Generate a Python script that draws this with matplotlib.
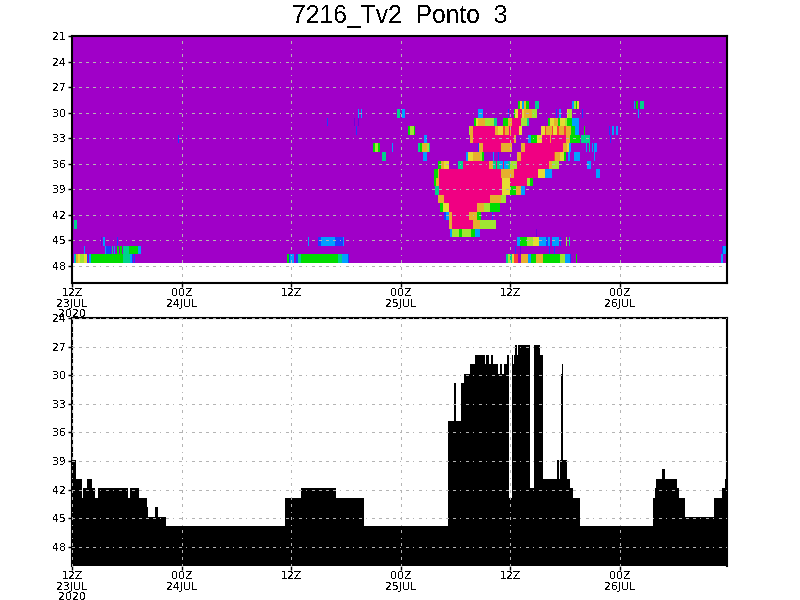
import numpy as np
import matplotlib
matplotlib.use("Agg")
import matplotlib.pyplot as plt
from matplotlib.colors import ListedColormap, BoundaryNorm

plt.rcParams['text.antialiased'] = False
plt.rcParams['font.family'] = 'DejaVu Sans'

# colour levels
V, I, B, C, A, T, G, L, Y, O, K, R, P = range(13)
LEVEL_COLORS = [(160,0,200),(110,0,220),(30,60,255),(0,160,255),(0,200,200),(0,210,140),
                (0,220,0),(160,230,50),(230,220,50),(230,175,45),(240,130,40),(250,60,60),(240,0,130)]

TITLE = "7216_Tv2  Ponto  3"
N_STEPS = 655
HOURS_PER_STEP = 12 / 109.6
TIME_TICKS = [0, 12, 24, 36, 48, 60]
TIME_LABELS = ["12Z\n23JUL\n2020", "00Z\n24JUL", "12Z", "00Z\n25JUL", "12Z", "00Z\n26JUL"]
TOP_LEVELS = list(range(21, 48))
TOP_YTICKS = [21, 24, 27, 30, 33, 36, 39, 42, 45, 48]
BOTTOM_YTICKS = [24, 27, 30, 33, 36, 39, 42, 45, 48]

# runs per level: (first step, end step, colour level)
ROW_29 = [(446,448,G),(448,450,Y),(450,452,C),(452,454,O),(454,457,G),(463,467,T),(500,502,C),(502,504,L),
          (504,505,G),(505,507,Y),(562,563,C),(564,566,G),(568,572,T)]
ROW_30 = [(286,287,C),(289,290,C),(325,328,T),(330,333,C),(406,411,C),(436,437,B),(442,443,G),(443,446,Y),(446,450,P),
          (450,452,Y),(452,460,O),(460,465,L),(484,485,B),(487,489,C),(495,496,Y),(496,500,L),(510,511,B),(566,567,C)]
ROW_31 = [(255,256,B),(282,283,I),(286,287,I),(402,404,G),(404,406,Y),(406,413,O),(413,422,L),(422,425,T),(431,436,G),
          (436,440,O),(440,449,P),(449,455,L),(455,457,T),(476,478,G),(478,482,Y),(482,486,O),(486,488,G),
          (488,493,Y),(493,495,L),(495,500,G),(500,507,C)]
ROW_32 = [(284,285,B),(336,338,G),(338,342,L),(342,343,G),(397,398,L),(398,401,O),(401,423,P),(423,426,O),(426,431,Y),
          (431,433,R),(433,437,O),(437,438,P),(438,439,O),(439,447,P),(447,450,Y),(469,473,Y),(473,474,R),(474,480,O),
          (480,481,R),(481,485,Y),(485,487,R),(487,492,O),(492,494,R),(494,499,O),(499,503,G),(503,507,C),
          (512,513,G),(537,538,B),(540,542,C),(544,546,C)]
ROW_33 = [(106,107,B),(352,355,C),(398,401,O),(401,442,P),(442,444,O),(456,459,C),(459,465,G),(465,470,Y),(470,478,P),
          (478,479,O),(479,494,P),(494,498,O),(498,508,G),(509,518,T),(538,539,B)]
ROW_34 = [(301,303,G),(303,306,L),(306,308,G),(320,321,C),(346,348,T),(348,350,G),(350,355,O),(355,357,L),(357,358,T),
          (406,407,B),(407,411,O),(411,429,P),(429,440,O),(449,453,O),(453,491,P),(491,495,O),(495,497,Y),(497,499,C),
          (514,515,C),(517,518,T),(520,521,C),(522,525,C)]
ROW_35 = [(310,314,T),(351,355,C),(394,396,C),(396,401,Y),(401,408,O),(408,410,L),(410,412,G),(421,422,C),(426,427,B),
          (445,449,O),(449,482,P),(482,483,R),(483,488,O),(488,492,Y),(492,494,G),(496,498,C),(502,508,C),(522,523,C)]
ROW_36 = [(366,369,G),(369,372,O),(372,377,Y),(386,391,T),(391,417,P),(417,421,O),(421,424,T),(424,425,P),(425,428,T),
          (428,431,C),(431,432,P),(432,436,C),(436,438,T),(438,445,L),
          (445,477,P),(477,480,O),(480,487,L),(515,519,C)]
ROW_37 = [(362,366,G),(366,367,O),(367,429,P),(429,442,O),(442,466,P),(466,473,Y),(473,480,C),(524,528,C)]
ROW_38 = [(362,364,G),(364,367,O),(367,430,P),(430,438,Y),(438,455,P),(455,458,L),(458,461,G)]
ROW_39 = [(363,367,T),(367,430,P),(430,438,Y),(438,444,G),(444,449,O),(449,453,C)]
ROW_40 = [(366,372,O),(372,418,P),(418,429,O),(429,434,L)]
ROW_41 = [(368,371,G),(371,377,Y),(377,405,P),(405,412,O),(412,418,L),(418,428,G)]
ROW_42 = [(372,374,B),(374,377,C),(377,380,O),(380,397,P),(397,405,O),(405,409,G),(420,421,B)]
ROW_43 = [(2,5,T),(377,380,O),(380,401,P),(401,408,O),(408,424,L)]
ROW_44 = [(378,380,C),(380,387,L),(387,390,G),(390,399,L),(399,403,G),(403,408,C),(464,465,I)]
ROW_45 = [(29,30,I),(31,33,C),(45,46,B),(236,237,C),(246,249,B),(249,263,C),(263,271,B),(271,272,C),(445,448,C),(448,455,G),
          (455,461,L),(461,467,Y),(467,474,C),(474,476,B),(476,478,C),(480,487,C),(488,489,B),(494,495,L),(497,498,T)]
ROW_46 = [(12,13,C),(33,34,C),(34,39,B),(40,41,T),(42,43,C),(45,47,G),(48,50,G),(51,57,T),(57,66,G),(66,69,C),
          (443,444,B),(448,449,I),(477,478,B),(482,483,B),(650,651,B),(651,654,C)]
ROW_47 = [(2,3,C),(3,4,T),(4,6,O),(6,8,Y),(8,12,L),(12,15,Y),(15,16,B),(17,19,C),(19,51,G),(51,58,T),(58,60,C),(60,61,B),
          (62,63,B),(215,217,G),(217,218,B),(218,222,C),(224,226,B),(226,229,T),(229,266,G),(266,270,T),(270,276,C),
          (276,277,B),(434,436,T),(436,438,L),(438,440,T),(440,442,Y),(442,446,R),(449,456,O),(456,459,C),(459,464,G),
          (464,471,O),(471,488,G),(488,493,L),(493,498,C),(498,499,B),(504,505,G),(649,651,C)]
ROWS = [(29,ROW_29),(30,ROW_30),(31,ROW_31),(32,ROW_32),(33,ROW_33),(34,ROW_34),(35,ROW_35),(36,ROW_36),(37,ROW_37),
        (38,ROW_38),(39,ROW_39),(40,ROW_40),(41,ROW_41),(42,ROW_42),(43,ROW_43),(44,ROW_44),(45,ROW_45),(46,ROW_46),(47,ROW_47)]

# lower panel: step where each depth starts, and that depth
DEPTH_STARTS = [0,4,10,11,15,20,23,26,56,58,67,75,76,83,86,94,213,229,264,292,376,382,384,389,392,398,403,413,414,417,419,421,
                426,428,430,432,435,437,440,441,442,443,445,446,458,462,468,471,485,487,488,489,490,491,495,498,501,508,
                581,583,584,590,593,605,607,613,642,650,653,654]
DEPTH_VALUES = [39,41,43,42,41,42,43,42,43,42,43,44,45,44,45,46,43,42,43,46,35,31,35,31,30,29,28,29,28,29,28,29,
                30,29,30,29,28,43,28,29,28,27,28,27,42,27,28,41,39,41,39,30,29,39,41,42,43,46,
                43,42,41,40,41,42,43,45,43,42,41,39]

field = np.zeros((len(TOP_LEVELS), N_STEPS), dtype=int)
for level, runs in ROWS:
    for a, b, c in runs:
        field[TOP_LEVELS.index(level), a:b] = c

W, H = 800, 600
fig = plt.figure(figsize=(W/100, H/100), dpi=100, facecolor='white')
def make_ax(top, bottom):
    return fig.add_axes([72/W, 1-bottom/H, (727-72)/W, (bottom-top)/H])
ax1 = make_ax(36, 283)
ax2 = make_ax(318, 566)

x_edges = np.arange(N_STEPS+1) * HOURS_PER_STEP
y_edges = np.array(TOP_LEVELS + [48]) - 0.38
cmap = ListedColormap(np.array(LEVEL_COLORS)/255)
norm = BoundaryNorm(np.arange(-0.5, 13), 13)
ax1.pcolormesh(x_edges, y_edges, field, cmap=cmap, norm=norm, antialiased=False, linewidth=0, rasterized=True)
ax1.set_ylim(50, 21)

step_x = np.array(DEPTH_STARTS + [N_STEPS]) * HOURS_PER_STEP
step_y = np.array(DEPTH_VALUES + [DEPTH_VALUES[-1]]) - 0.15
ax2.fill_between(step_x, step_y, 50, step='post', color='black', linewidth=0, antialiased=False, zorder=1)
ax2.set_ylim(50, 24)

GRID = '#b4b4b4'
DASH = (0, (2.5, 4.2, 2.5, 4.2, 2.5, 4.2, 2.5, 4.2, 1, 5.7, 2.5, 4.2, 1, 5.7, 2.5, 4.2, 1, 5.7))
for ax, yt, gz in ((ax1, TOP_YTICKS, 2), (ax2, BOTTOM_YTICKS, 5)):
    ax.set_xlim(0, N_STEPS*HOURS_PER_STEP)
    ax.set_xticks(TIME_TICKS)
    ax.set_xticklabels(TIME_LABELS, fontsize=7.8, linespacing=1.05)
    ax.set_yticks(yt)
    ax.set_yticklabels([str(v) for v in yt], fontsize=7.8)
    ax.tick_params(axis='y', length=3, width=1, color='black', pad=1.5)
    ax.tick_params(axis='x', length=3, width=1, color='black', pad=0.8)
    for s in ax.spines.values():
        s.set_linewidth(1.5)
    ax.spines['bottom'].set_visible(ax is ax1)
    for t in TIME_TICKS:
        ax.axvline(t, color=GRID, lw=0.72, ls=DASH, zorder=gz, clip_on=False, antialiased=False)
    for v in yt:
        if ax is ax1 and v == 21:
            continue
        ax.axhline(v, color=GRID, lw=0.72, ls=DASH, zorder=gz, clip_on=False, antialiased=False)

fig.text(400/W, 1-16/H, TITLE, ha='center', va='center', fontsize=17.7, color='black', family='Liberation Sans')
fig.savefig('out.png', dpi=100)
